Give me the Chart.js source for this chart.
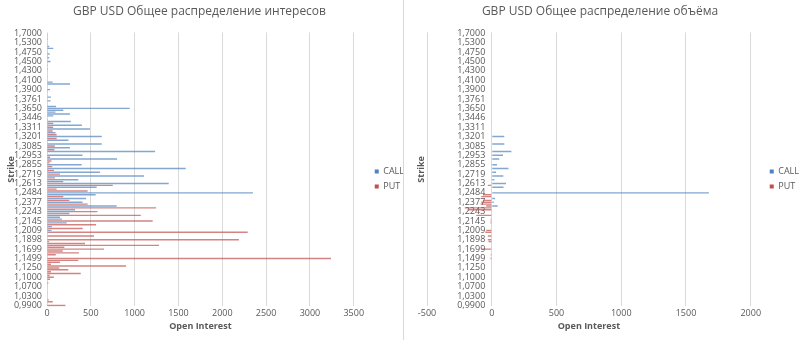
<!DOCTYPE html>
<html>
<head>
<meta charset="utf-8">
<script src="https://cdn.jsdelivr.net/npm/chart.js@4.4.1/dist/chart.umd.min.js"></script>
<style>
  body { margin: 0; background: #fff; }
  #wrap { position: relative; width: 800px; height: 340px; overflow: hidden; }
  #oiChart { position: absolute; left: 0; top: 0; }
  #volChart { position: absolute; left: 404px; top: 0; }
  #divider { position: absolute; left: 403px; top: 0; width: 1px; height: 340px; background: #d9d9d9; }
</style>
</head>
<body>
<div id="wrap">
  <canvas id="oiChart" width="403" height="340"></canvas>
  <div id="divider"></div>
  <canvas id="volChart" width="396" height="340"></canvas>
</div>
<script>
// strikes, top to bottom; every 5th one gets a label on the axis
const strikes = [
  '1,7000', '1,6500', '1,6000', '1,5700', '1,5500',
  '1,5300', '1,5200', '1,5100', '1,5000', '1,4850',
  '1,4750', '1,4700', '1,4650', '1,4600', '1,4550',
  '1,4500', '1,4450', '1,4400', '1,4350', '1,4325',
  '1,4300', '1,4250', '1,4200', '1,4150', '1,4125',
  '1,4100', '1,4050', '1,4000', '1,3950', '1,3925',
  '1,3900', '1,3850', '1,3825', '1,3800', '1,3781',
  '1,3761', '1,3741', '1,3720', '1,3700', '1,3675',
  '1,3650', '1,3600', '1,3550', '1,3500', '1,3475',
  '1,3446', '1,3418', '1,3391', '1,3364', '1,3337',
  '1,3311', '1,3284', '1,3257', '1,3230', '1,3215',
  '1,3201', '1,3174', '1,3147', '1,3120', '1,3100',
  '1,3085', '1,3058', '1,3031', '1,3004', '1,2977',
  '1,2953', '1,2926', '1,2900', '1,2881', '1,2868',
  '1,2855', '1,2828', '1,2800', '1,2773', '1,2746',
  '1,2719', '1,2692', '1,2665', '1,2650', '1,2638',
  '1,2613', '1,2586', '1,2559', '1,2532', '1,2505',
  '1,2484', '1,2451', '1,2424', '1,2400', '1,2390',
  '1,2377', '1,2350', '1,2323', '1,2296', '1,2270',
  '1,2243', '1,2216', '1,2200', '1,2182', '1,2162',
  '1,2145', '1,2118', '1,2091', '1,2064', '1,2037',
  '1,2009', '1,1983', '1,1956', '1,1925', '1,1910',
  '1,1898', '1,1850', '1,1800', '1,1750', '1,1725',
  '1,1699', '1,1650', '1,1600', '1,1550', '1,1525',
  '1,1499', '1,1450', '1,1400', '1,1350', '1,1300',
  '1,1250', '1,1200', '1,1150', '1,1100', '1,1050',
  '1,1000', '1,0950', '1,0900', '1,0850', '1,0800',
  '1,0700', '1,0600', '1,0500', '1,0450', '1,0400',
  '1,0300', '1,0200', '1,0100', '1,0050', '1,0000',
  '0,9900'
];

// open interest per strike
const oiCall = [
  5, 3, 4, 2, 6,
  4, 3, 25, 72, 0,
  8, 30, 8, 25, 0,
  40, 0, 3, 0, 6,
  5, 0, 0, 4, 0,
  5, 65, 262, 0, 6,
  34, 0, 6, 0, 45,
  0, 40, 0, 0, 103,
  944, 186, 97, 262, 72,
  0, 0, 272, 0, 398,
  0, 490, 0, 98, 0,
  625, 0, 245, 0, 624,
  0, 262, 0, 1233, 0,
  405, 0, 800, 0, 0,
  396, 0, 1583, 0, 605,
  0, 1107, 0, 357, 0,
  1389, 0, 567, 0, 0,
  2350, 555, 0, 445, 0,
  405, 0, 795, 0, 320,
  0, 255, 0, 148, 170,
  0, 225, 0, 57, 0,
  52, 0, 0, 0, 0,
  0, 25, 0, 0, 0,
  0, 0, 0, 0, 0,
  0, 0, 0, 0, 0,
  0, 0, 0, 0, 0,
  0, 0, 0, 0, 0,
  0, 0, 0, 0, 0,
  0, 0, 0, 0, 0,
  0
];
const oiPut = [
  0, 0, 0, 0, 0,
  0, 0, 0, 0, 0,
  0, 0, 0, 0, 0,
  0, 0, 0, 0, 10,
  0, 0, 0, 0, 0,
  0, 0, 0, 0, 0,
  0, 8, 0, 0, 0,
  0, 0, 0, 0, 0,
  0, 0, 0, 0, 0,
  0, 5, 0, 72, 0,
  70, 0, 65, 0, 110,
  0, 110, 0, 5, 0,
  90, 0, 85, 0, 0,
  0, 35, 0, 50, 30,
  0, 60, 0, 80, 0,
  148, 0, 90, 0, 186,
  0, 750, 0, 110, 464,
  0, 0, 186, 0, 255,
  0, 464, 0, 1245, 0,
  575, 0, 1070, 0, 0,
  1206, 0, 560, 0, 407,
  0, 2290, 0, 536, 0,
  2190, 0, 434, 1278, 198,
  650, 180, 365, 100, 0,
  3240, 357, 148, 45, 902,
  140, 243, 45, 385, 30,
  78, 35, 0, 15, 5,
  0, 0, 0, 5, 0,
  0, 0, 20, 66, 0,
  210
];

// volume per strike, puts plotted to the left of zero
const volCall = [
  0, 0, 0, 0, 0,
  0, 0, 0, 0, 0,
  0, 0, 0, 0, 0,
  0, 0, 0, 0, 0,
  0, 0, 0, 0, 0,
  0, 0, 0, 0, 0,
  0, 0, 0, 0, 0,
  0, 0, 0, 0, 0,
  0, 0, 0, 0, 0,
  0, 0, 3, 0, 0,
  0, 0, 0, 0, 0,
  97, 0, 0, 0, 97,
  0, 0, 0, 152, 0,
  87, 0, 58, 0, 0,
  41, 0, 129, 0, 33,
  0, 89, 0, 20, 0,
  110, 0, 91, 0, 0,
  1677, 0, 0, 26, 0,
  15, 0, 46, 0, 0,
  3, 0, 0, 0, 0,
  0, 0, 0, 0, 0,
  0, 0, 0, 0, 0,
  0, 0, 0, 0, 0,
  0, 0, 0, 0, 0,
  0, 0, 0, 0, 0,
  0, 0, 0, 0, 0,
  0, 0, 0, 0, 0,
  0, 0, 0, 0, 0,
  0, 0, 0, 0, 0,
  0
];
const volPut = [
  0, 0, 0, 0, 0,
  0, 0, 0, 0, 0,
  0, 0, 0, 0, 0,
  0, 0, 0, 0, 0,
  0, 0, 0, 0, 0,
  0, 0, 0, 0, 0,
  0, 0, 0, 0, 0,
  0, 0, 0, 0, 0,
  0, 0, 0, 0, 0,
  0, 0, 0, 0, 0,
  0, 0, 0, 0, 0,
  0, 0, 0, 0, 0,
  0, 0, 0, 0, 0,
  0, 0, 0, 0, 0,
  0, 0, 0, 0, 0,
  0, 0, 0, 0, 0,
  0, -30, 0, 0, 0,
  0, -68, -81, 0, -68,
  -81, -86, -43, -208, -187,
  0, 0, -119, 0, -8,
  -8, -10, 0, 0, 0,
  -43, -50, 0, -30, 0,
  -30, -25, 0, 0, 0,
  -80, 0, 0, -8, 0,
  -10, 0, 0, 0, 0,
  0, 0, 0, 0, 0,
  0, 0, 0, 0, 0,
  0, 0, 0, 0, 0,
  0, 0, 0, 0, 0,
  0
];

const oiTicks = [0, 3500];
const volTicks = [-500, 2000];

const textGray = '#595959';
const gridGray = '#d9d9d9';
const callColor = '#4F81BD';
const putColor = '#C0504D';
// thin bars are drawn semi-transparent so they read as light strokes
const callFill = 'rgba(79, 129, 189, 0.7)';
const putFill = 'rgba(192, 80, 77, 0.7)';
const family = "'Open Sans', 'Noto Sans', sans-serif";
const narrow = "'Liberation Sans Narrow', 'Open Sans', sans-serif";

// push the legend further right / down than Chart.js puts it
const legendShift = {
  id: 'legendShift',
  afterLayout(chart, args, opts) {
    const lg = chart.legend;
    if (!lg) return;
    lg.left += opts.dx || 0;
    lg.right += opts.dx || 0;
    lg.top += opts.dy || 0;
    lg.bottom += opts.dy || 0;
  }
};

function makeDatasets(callData, putData) {
  const common = { grouped: false, barPercentage: 0.75, categoryPercentage: 1, borderWidth: 0 };
  return [
    { label: 'CALL', data: callData, backgroundColor: callFill, ...common },
    { label: 'PUT', data: putData, backgroundColor: putFill, ...common }
  ];
}

// legend squares keep the full series colour
function legendLabels(chart) {
  const solid = [callColor, putColor];
  return Chart.defaults.plugins.legend.labels.generateLabels(chart).map(item => ({
    ...item,
    fillStyle: solid[item.datasetIndex],
    strokeStyle: solid[item.datasetIndex],
    lineWidth: 0
  }));
}

function strikeLabel(value, index) {
  return index % 5 === 0 ? strikes[index] : '';
}

function baseOptions(titleText, range, legendDx) {
  return {
    indexAxis: 'y',
    responsive: false,
    animation: false,
    devicePixelRatio: 1,
    layout: { padding: { left: 0, right: 4, top: 0, bottom: 8 } },
    plugins: {
      title: {
        display: true,
        text: titleText,
        color: textGray,
        font: { family, size: 12, weight: 'normal' },
        padding: { top: 4, bottom: 14 }
      },
      legend: {
        position: 'right',
        labels: {
          boxWidth: 4, boxHeight: 4, color: textGray,
          font: { family: narrow, size: 9 }, padding: 6,
          generateLabels: legendLabels
        }
      },
      tooltip: { enabled: false },
      legendShift: { dx: legendDx, dy: 13 }
    },
    scales: {
      x: {
        min: range[0],
        max: range[1],
        ticks: { stepSize: 500, color: textGray, font: { family: narrow, size: 9 }, padding: 2, callback: v => String(v) },
        grid: { color: gridGray, drawTicks: false },
        border: { display: false },
        title: {
          display: true,
          text: 'Open Interest',
          color: textGray,
          font: { family: narrow, size: 9, weight: 'bold' },
          padding: { top: 0, bottom: 0 }
        }
      }
    }
  };
}

const strikeTitle = {
  display: true,
  text: 'Strike',
  color: textGray,
  font: { family: narrow, size: 9, weight: 'bold' },
  padding: { top: 0, bottom: 0 }
};

// open interest
const oiOptions = baseOptions('GBP USD Общее распределение интересов', oiTicks, 15);
oiOptions.scales.y = {
  afterFit(scale) { scale.width = 47; },
  ticks: { autoSkip: false, callback: strikeLabel, color: textGray, font: { family: narrow, size: 9 }, padding: 5 },
  grid: { display: false, drawTicks: false },
  border: { display: false },
  title: { ...strikeTitle, padding: { top: 6, bottom: 0 } }
};

new Chart(document.getElementById('oiChart'), {
  type: 'bar',
  data: { labels: strikes, datasets: makeDatasets(oiCall, oiPut) },
  options: oiOptions,
  plugins: [legendShift]
});

// volume: strike labels sit just left of the zero line, title on a bare axis at the left
const volOptions = baseOptions('GBP USD Общее распределение объёма', volTicks, 13);
volOptions.scales.y = {
  position: { x: -50 },
  ticks: { autoSkip: false, callback: strikeLabel, color: textGray, font: { family: narrow, size: 9 } },
  grid: { display: false, drawTicks: false },
  border: { display: false }
};
volOptions.scales.yTitle = {
  type: 'category',
  axis: 'y',
  position: 'left',
  afterFit(scale) { scale.width = 23; },
  ticks: { display: false },
  grid: { display: false, drawTicks: false },
  border: { display: false },
  title: { ...strikeTitle, padding: { top: 12, bottom: 0 } }
};

new Chart(document.getElementById('volChart'), {
  type: 'bar',
  data: { labels: strikes, datasets: makeDatasets(volCall, volPut) },
  options: volOptions,
  plugins: [legendShift]
});
</script>
</body>
</html>
